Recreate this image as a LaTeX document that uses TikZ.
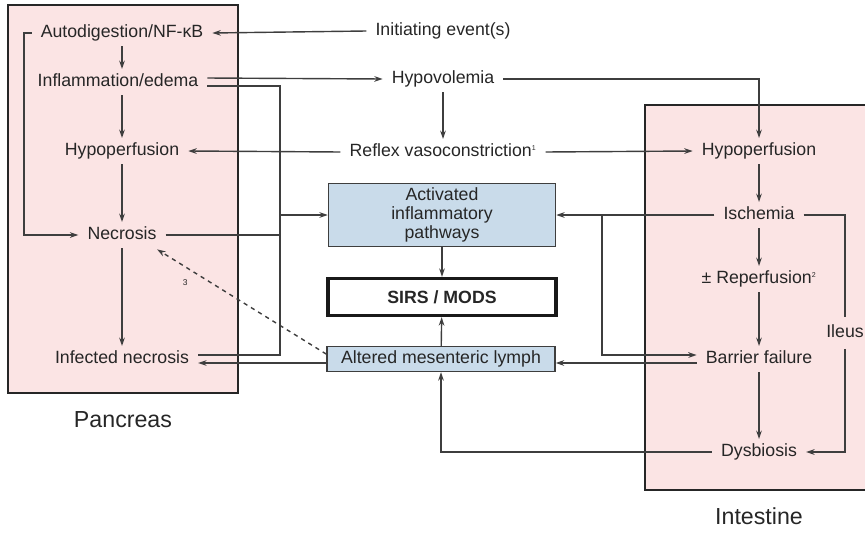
\documentclass[tikz,border=0pt]{standalone}
\usepackage{fontspec}
\setmainfont{Liberation Sans}
\usetikzlibrary{arrows.meta}
\definecolor{pancpink}{RGB}{251,228,228}
\definecolor{pathblue}{RGB}{201,219,234}
\definecolor{linegray}{RGB}{62,62,62}
\tikzset{
  txt/.style={inner xsep=6pt, inner ysep=3pt, text height=9pt, text depth=2.5pt,
    font=\fontsize{12.6}{14}\selectfont, text=black!85},
  bluebox/.style={draw=linegray, fill=pathblue, line width=1pt, align=center, inner sep=0pt,
    font=\fontsize{12.6}{13.5}\selectfont, text=black!85},
  organ/.style={draw=black!85, line width=2pt, fill=pancpink},
  organlabel/.style={font=\fontsize{16.5}{18}\selectfont, text=black!85},
  arr/.style={-{Stealth[length=6pt,width=4pt]}},
}
\begin{document}
\begin{tikzpicture}[x=0.025cm, y=-0.025cm, line width=1pt, draw=linegray]
					\useasboundingbox (0,0) rectangle (865,532);
					\clip (0,0) rectangle (865,532);
					% Organ boxes
					\draw[organ] (8,5) rectangle (238,393);
					\draw[organ] (645,105) rectangle (880,490);
					\node[organlabel] (pancreas) at (123,420) {Pancreas};
					\node[organlabel] (intestine) at (759,516) {Intestine};
					% Pancreas
					\node[txt] (autodig) at (122,33) {Autodigestion/NF-κB};
					\node[txt] (inflam) at (118,82) {Inflammation/edema};
					\node[txt] (phypo) at (122,151) {Hypoperfusion};
					\node[txt] (necro) at (122,235) {Necrosis};
					\node[txt] (infnec) at (122,359) {Infected necrosis};
					% Middle
					\node[txt] (initev) at (443,31) {Initiating event(s)};
					\node[txt] (hypovol) at (443,79) {Hypovolemia};
					\node[txt] (reflex) at (443,152) {Reflex vasoconstriction\textsuperscript{\tiny 1}};
					\node[bluebox, minimum width=5.675cm, minimum height=1.575cm] (actpath) at (442,215) {Activated\\inflammatory\\pathways};
					\node[draw=black!90, line width=2.2pt, minimum width=5.7cm, minimum height=0.93cm,
						font=\fontsize{12.6}{14}\selectfont\bfseries, text=black!85] (sirs) at (442,297) {SIRS / MODS};
					\node[bluebox, minimum width=5.7cm, minimum height=0.625cm] (lymph) at (441,359) {Altered mesenteric lymph};
					% Intestine
					\node[txt] (ihypo) at (759,151) {Hypoperfusion};
					\node[txt] (isch) at (759,215) {Ischemia};
					\node[txt] (reperf) at (759,279) {± Reperfusion\textsuperscript{\tiny 2}};
					\node[txt] (barrier) at (759,359) {Barrier failure};
					\node[txt] (dysb) at (759,452) {Dysbiosis};
					\node[txt, inner xsep=0pt, inner ysep=5pt] (ileus) at (845,333) {Ileus};
					\coordinate (jl) at (280,215);
					\coordinate (jr) at (602,215);
					% Pancreas arrows
					\draw[arr] (initev.west) -- (autodig.east);
					\draw[arr] (autodig) -- (autodig |- inflam.north);
					\draw[arr] (phypo |- inflam.south) -- (phypo.north);
					\draw[arr] (phypo) -- (necro);
					\draw[arr] (necro) -- (infnec);
					\draw[arr] (autodig.west) -| (24,235) -- (necro.west);
					% Into activated pathways
					\draw[arr] ([yshift=2.84pt]inflam.east) -- (hypovol.west);
					\draw ([yshift=-2.84pt]inflam.east) -| (jl) |- ([yshift=2.84pt]infnec.east);
					\draw (necro.east) -- (necro.east -| jl);
					\draw[arr] (jl) -- (actpath.west);
					% Hypovolemia
					\draw[arr] (hypovol) -- (reflex);
					\draw[arr] (hypovol.east) -| (ihypo.north);
					\draw[arr] (reflex.west) -- (phypo.east);
					\draw[arr] (reflex.east) -- (ihypo.west);
					% Intestine arrows
					\draw[arr] (ihypo) -- (isch);
					\draw[arr] (isch) -- (reperf);
					\draw[arr] (reperf) -- (barrier);
					\draw[arr] (barrier) -- (dysb);
					\draw[arr] (isch.west) -- (actpath.east);
					\draw[arr] (jr) |- ([yshift=2.84pt]barrier.west);
					\draw[arr] ([yshift=-2.84pt]barrier.west) -- ([yshift=-2.84pt]lymph.east);
					\draw (isch.east) -| (ileus.north);
					\draw[arr] (ileus.south) |- (dysb.east);
					\draw[arr] (dysb.west) -| (lymph.south);
					% Toward SIRS / MODS
					\draw[arr] (actpath) -- (sirs);
					\draw[arr] (lymph) -- (sirs);
					\draw[arr] ([yshift=-2.84pt]lymph.west) -- ([yshift=-2.84pt]infnec.east);
					\draw[arr, dashed] ([yshift=3.5pt]lymph.west) -- ([xshift=-6pt,yshift=-1pt]necro.south east)
						node[pos=0.78, below left=1pt, font=\fontsize{6}{7}\selectfont, text=black!85] {3};
				\end{tikzpicture}
\end{document}
